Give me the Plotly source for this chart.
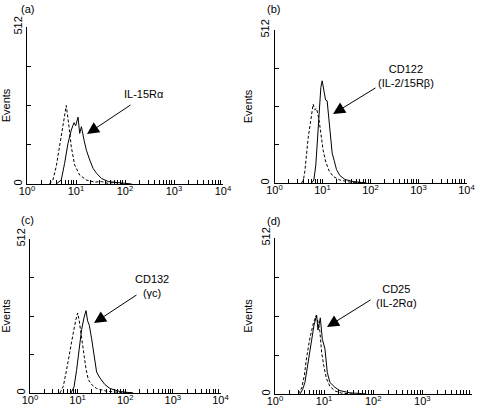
import plotly.graph_objects as go

# ---------------- data (fluorescence intensity, events) ----------------
a_ctrl_x = [2.88, 3.37, 3.94, 4.62, 5.41, 6.33, 7.07, 8.02, 9.39, 11.9, 16.3, 24.2, 33, 45.5, 60, 100]
a_ctrl_y = [0, 13, 56, 121, 197, 256, 197, 121, 62, 29, 13, 6, 8, 2, 5, 0]
a_stain_x = [3.94, 5.0, 5.85, 6.85, 8.02, 9.1, 9.84, 11.0, 11.9, 12.9, 14.6, 16.3, 19.1, 22.3, 26.2, 33.2, 45.5, 73, 137]
a_stain_y = [0, 13, 67, 132, 176, 200, 190, 218, 165, 187, 143, 110, 78, 51, 35, 18, 8, 4, 0]

b_ctrl_x = [3.65, 4.0, 4.29, 4.64, 5.02, 5.44, 5.9, 6.39, 6.92, 7.5, 8.4, 9.2, 10.3, 11.7, 13.8, 16.7, 23, 37, 83]
b_ctrl_y = [0, 10, 40, 100, 150, 188, 230, 264, 245, 250, 215, 160, 110, 70, 40, 22, 10, 3, 0]
b_stain_x = [5.9, 6.6, 7.26, 7.87, 8.52, 9.23, 9.84, 10.7, 11.6, 12.5, 13.5, 14.7, 15.9, 17.5, 19.6, 23, 29.2, 43.5, 83]
b_stain_y = [0, 10, 60, 150, 250, 320, 342, 310, 278, 275, 220, 150, 100, 75, 45, 25, 12, 5, 0]

c_ctrl_x = [4.26, 5.0, 5.88, 6.9, 8.1, 9.23, 10.0, 10.8, 11.7, 13.1, 15.0, 16.7, 19.7, 25, 40.5, 77, 147]
c_ctrl_y = [0, 22, 78, 145, 200, 245, 266, 240, 200, 140, 80, 45, 28, 15, 6, 2, 0]
c_stain_x = [7.25, 8.4, 9.5, 10.8, 12.1, 13.6, 15.0, 16.2, 17.6, 19.7, 22, 25, 29.4, 37.4, 47.7, 77, 147]
c_stain_y = [0, 20, 75, 150, 210, 250, 274, 240, 225, 180, 120, 70, 50, 28, 15, 5, 0]

d_ctrl_x = [2.98, 3.49, 3.95, 4.4, 5.15, 6.0, 6.82, 7.6, 8.2, 8.9, 9.9, 11.2, 13.1, 16.6, 22.7, 39]
d_ctrl_y = [0, 20, 60, 120, 185, 230, 257, 235, 205, 137, 90, 50, 25, 10, 3, 0]
d_stain_x = [3.22, 3.65, 4.07, 4.76, 5.57, 6.21, 7.04, 7.5, 8.36, 9.18, 10.4, 11.6, 13.1, 16.6, 21, 33.5, 73]
d_stain_y = [0, 15, 38, 104, 180, 225, 259, 210, 250, 180, 148, 71, 38, 22, 11, 4, 0]

panel_letters = ["(a)", "(b)", "(c)", "(d)"]
marker_labels = ["IL-15Rα", "CD122<br>(IL-2/15Rβ)", "CD132<br>(γc)", "CD25<br>(IL-2Rα)"]

x_tick_major = [1, 10, 100, 1000, 10000]
x_tick_text = ["10<sup>0</sup>", "10<sup>1</sup>", "10<sup>2</sup>", "10<sup>3</sup>", "10<sup>4</sup>"]
x_tick_minor = [m * 10 ** d for d in range(4) for m in range(2, 10)]
y_tick_major = [0, 512]
y_tick_text = ["0", "512"]
y_tick_minor = [128, 256, 384]

# ---------------- layout geometry ----------------
W, H = 479, 412
FONT = "Liberation Sans, Arial, Helvetica, sans-serif"

def px_x(v):
    return v / W

def px_y(v):
    return 1 - v / H

# pixel boxes: (left, right, top, bottom)
boxes = [
    (27, 223, 27, 184),
    (274.5, 466.5, 30, 183),
    (30, 220.5, 239, 393),
    (275, 471.5, 238, 394),
]

fig = go.Figure()

series = [
    (a_ctrl_x, a_ctrl_y, a_stain_x, a_stain_y),
    (b_ctrl_x, b_ctrl_y, b_stain_x, b_stain_y),
    (c_ctrl_x, c_ctrl_y, c_stain_x, c_stain_y),
    (d_ctrl_x, d_ctrl_y, d_stain_x, d_stain_y),
]

layout = dict(
    width=W, height=H,
    margin=dict(l=0, r=0, t=0, b=0, autoexpand=False),
    paper_bgcolor="white", plot_bgcolor="white",
    showlegend=False,
    font=dict(family=FONT, size=11, color="black"),
)

annotations = []
for i, (box, s) in enumerate(zip(boxes, series)):
    n = "" if i == 0 else str(i + 1)
    xa = "x" + n
    ya = "y" + n
    l, r, t, b = box
    layout["xaxis" + n] = dict(
        type="log", range=[0, 4], domain=[px_x(l), px_x(r)],
        anchor=ya, showline=True, linecolor="black", linewidth=1,
        showgrid=False, zeroline=False, ticks="inside", ticklen=4,
        tickcolor="black", tickwidth=1, automargin=False,
        tickmode="array", tickvals=x_tick_major, ticktext=x_tick_text,
        ticklabelstandoff=-3,
        minor=dict(tickmode="array", tickvals=x_tick_minor, ticks="inside",
                   ticklen=4, tickcolor="black", tickwidth=1, showgrid=False),
        tickfont=dict(family=FONT, size=11, color="black"),
    )
    layout["yaxis" + n] = dict(
        range=[0, 512], domain=[px_y(b), px_y(t)],
        anchor=xa, showline=True, linecolor="black", linewidth=1,
        showgrid=False, zeroline=False, ticks="inside", ticklen=4,
        tickcolor="black", tickwidth=1, automargin=False,
        tickmode="array", tickvals=y_tick_major, ticktext=y_tick_text,
        minor=dict(tickmode="array", tickvals=y_tick_minor, ticks="inside",
                   ticklen=4, tickcolor="black", tickwidth=1, showgrid=False),
        tickangle=-90, tickfont=dict(family=FONT, size=11, color="black"),
        title=dict(text="Events", standoff=4, font=dict(family=FONT, size=11, color="black")),
    )
    cx, cy, sx, sy = s
    fig.add_trace(go.Scatter(x=cx, y=cy, mode="lines", xaxis=xa, yaxis=ya,
                             line=dict(color="black", width=1, dash="3px,2px")))
    fig.add_trace(go.Scatter(x=sx, y=sy, mode="lines", xaxis=xa, yaxis=ya,
                             line=dict(color="black", width=1)))

# panel letters
letter_pos = [(27, 9), (273, 9), (27, 220), (273, 221)]
for txt, (x, y) in zip(panel_letters, letter_pos):
    annotations.append(dict(text=txt, x=px_x(x), y=px_y(y), xref="paper", yref="paper",
                            showarrow=False, font=dict(family=FONT, size=11),
                            xanchor="center", yanchor="middle"))

# labels
label_pos = [(144, 94), (406, 76), (152, 286), (396, 296)]
for txt, (x, y) in zip(marker_labels, label_pos):
    annotations.append(dict(text=txt, x=px_x(x), y=px_y(y), xref="paper", yref="paper",
                            showarrow=False, font=dict(family=FONT, size=11),
                            xanchor="center", yanchor="middle", align="center"))

# arrows: (tail, head)
arrows = [((132, 104), (87, 134)), ((377, 87), (333, 114)),
          ((138, 294), (94, 323)), ((372, 299), (327, 327))]
for (tx, ty), (hx, hy) in arrows:
    annotations.append(dict(text="", x=px_x(hx), y=px_y(hy), xref="paper", yref="paper",
                            showarrow=True, arrowhead=2, arrowsize=2.4, arrowwidth=1,
                            arrowcolor="black", ax=tx - hx, ay=ty - hy))

layout["annotations"] = annotations
fig.update_layout(**layout)
fig.write_html("out.html", config={"displayModeBar": False},
               post_script="document.body.style.margin='0';document.body.style.overflow='hidden';")
